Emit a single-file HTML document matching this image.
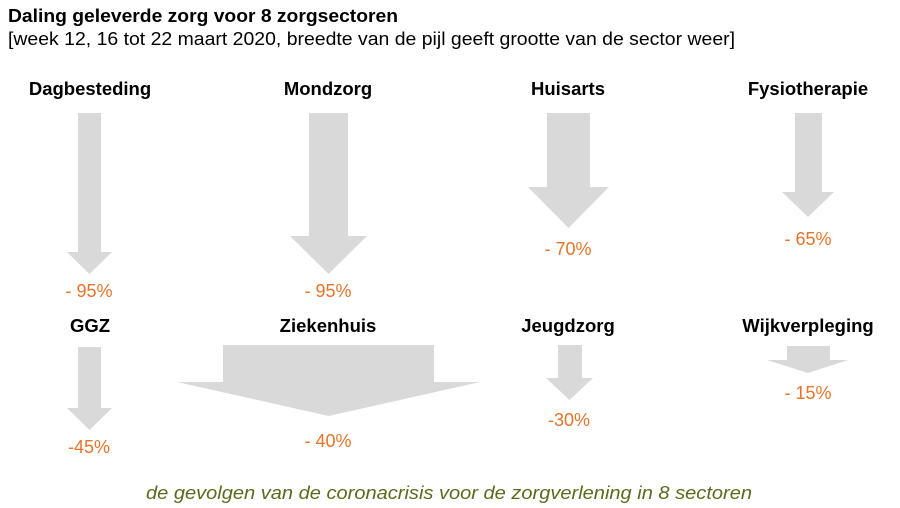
<!DOCTYPE html>
<html><head><meta charset="utf-8"><style>
body{margin:0;background:#fff;width:900px;height:508px;overflow:hidden}
svg{display:block}
text{font-family:"Liberation Sans",Arial,sans-serif}
.h{font-weight:bold;font-size:18.5px;fill:#000;text-anchor:middle}
.p{font-size:18px;fill:#e8742a;text-anchor:middle}
</style></head><body>
<svg width="900" height="508" viewBox="0 0 900 508">
<text x="8" y="22" font-weight="bold" font-size="18" textLength="390" lengthAdjust="spacingAndGlyphs">Daling geleverde zorg voor 8 zorgsectoren</text>
<text x="8" y="45" font-size="18" textLength="727" lengthAdjust="spacingAndGlyphs">[week 12, 16 tot 22 maart 2020, breedte van de pijl geeft grootte van de sector weer]</text>
<g fill="#d9d9d9">
<polygon points="78,113 101,113 101,252 112,252 89.5,274 67,252 78,252"/>
<polygon points="309,113 348,113 348,236 367,236 328.5,274 290,236 309,236"/>
<polygon points="547,113 590,113 590,187 609,187 568.5,228 528,187 547,187"/>
<polygon points="795,113 822,113 822,192 834,192 808,217 782,192 795,192"/>
<polygon points="78,347 101,347 101,408 112,408 89.5,430 67,408 78,408"/>
<polygon points="223,345 434,345 434,382 480,382 328.5,416 177,382 223,382"/>
<polygon points="558,345 582,345 582,378 593,378 569.5,400 546,378 558,378"/>
<polygon points="787,346 830,346 830,360 848,360 808,373 767,360 787,360"/>
</g>
<text class="h" x="90" y="95">Dagbesteding</text>
<text class="h" x="328" y="95">Mondzorg</text>
<text class="h" x="568" y="95">Huisarts</text>
<text class="h" x="808" y="95">Fysiotherapie</text>
<text class="h" x="90" y="332">GGZ</text>
<text class="h" x="328" y="332">Ziekenhuis</text>
<text class="h" x="568" y="332">Jeugdzorg</text>
<text class="h" x="808" y="332">Wijkverpleging</text>
<text class="p" x="89" y="297">- 95%</text>
<text class="p" x="328" y="297">- 95%</text>
<text class="p" x="568" y="255">- 70%</text>
<text class="p" x="808" y="245">- 65%</text>
<text class="p" x="89" y="453">-45%</text>
<text class="p" x="328" y="447">- 40%</text>
<text class="p" x="569" y="426">-30%</text>
<text class="p" x="808" y="399">- 15%</text>
<text x="146" y="499" font-size="18" font-style="italic" fill="#5a6b1e" textLength="606" lengthAdjust="spacingAndGlyphs">de gevolgen van de coronacrisis voor de zorgverlening in 8 sectoren</text>
</svg>
</body></html>
